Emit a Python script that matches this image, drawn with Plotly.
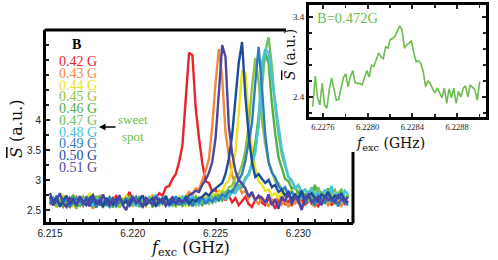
import plotly.graph_objects as go

# ---------------- data ----------------
freq = [
    6.2150, 6.2152, 6.2154, 6.2156, 6.2158, 6.2160, 6.2162, 6.2164, 6.2166, 6.2168,
    6.2170, 6.2172, 6.2174, 6.2176, 6.2178, 6.2180, 6.2182, 6.2184, 6.2186, 6.2188,
    6.2190, 6.2192, 6.2194, 6.2196, 6.2198, 6.2200, 6.2202, 6.2204, 6.2206, 6.2208,
    6.2210, 6.2212, 6.2214, 6.2216, 6.2218, 6.2220, 6.2222, 6.2224, 6.2226, 6.2228,
    6.2230, 6.2232, 6.2234, 6.2236, 6.2238, 6.2240, 6.2242, 6.2244, 6.2246, 6.2248,
    6.2250, 6.2252, 6.2254, 6.2256, 6.2258, 6.2260, 6.2262, 6.2264, 6.2266, 6.2268,
    6.2270, 6.2272, 6.2274, 6.2276, 6.2278, 6.2280, 6.2282, 6.2284, 6.2286, 6.2288,
    6.2290, 6.2292, 6.2294, 6.2296, 6.2298, 6.2300, 6.2302, 6.2304, 6.2306, 6.2308,
    6.2310, 6.2312, 6.2314, 6.2316, 6.2318, 6.2320, 6.2322, 6.2324, 6.2326, 6.2328,
    6.2330,
]

B_labels = ["0.42 G", "0.43 G", "0.44 G", "0.45 G", "0.46 G",
            "0.47 G", "0.48 G", "0.49 G", "0.50 G", "0.51 G"]
colors = ["#e8252b", "#f5893a", "#ede21f", "#8cc540", "#4fb04a",
          "#6fc064", "#47c3de", "#2e7dc3", "#1c4c9c", "#4b46a3"]

S_042 = [
    2.62, 2.71, 2.58, 2.66, 2.74, 2.60, 2.55, 2.68, 2.72, 2.63,
    2.57, 2.69, 2.75, 2.61, 2.66, 2.58, 2.70, 2.64, 2.56, 2.67,
    2.73, 2.62, 2.59, 2.68, 2.80, 2.65, 2.60, 2.71, 2.63, 2.57,
    2.69, 2.74,
    2.70, 2.78, 2.74, 2.88, 2.90, 3.02, 3.10, 3.30, 3.58, 4.30, 5.12, 5.08,
    4.20, 3.70, 3.28, 2.98, 2.95, 2.80, 2.84, 2.72, 2.78, 2.66,
    2.74, 2.63, 2.70, 2.58, 2.66, 2.72, 2.60, 2.55, 2.67, 2.73,
    2.62, 2.58, 2.69, 2.64, 2.52, 2.66, 2.71, 2.60, 2.65, 2.57,
    2.70, 2.62, 2.68, 2.59, 2.64, 2.72, 2.61, 2.56, 2.67, 2.63,
    2.70, 2.58, 2.66, 2.62, 2.69, 2.60, 2.65,
]
S_043 = [
    2.58, 2.66, 2.72, 2.61, 2.55, 2.69, 2.63, 2.75, 2.60, 2.67,
    2.57, 2.70, 2.64, 2.52, 2.68, 2.73, 2.62, 2.59, 2.71, 2.65,
    2.56, 2.68, 2.61, 2.74, 2.63, 2.57, 2.66, 2.70, 2.59, 2.64,
    2.72, 2.55, 2.67, 2.62, 2.69, 2.58, 2.65, 2.71, 2.60, 2.66,
    2.63,
    2.72, 2.80, 2.74, 2.86, 2.84, 3.00, 3.15, 3.35, 3.90, 4.62, 5.18,
    4.70, 3.80, 3.40, 3.08, 2.92, 2.90, 2.78, 2.82, 2.70, 2.76,
    2.66, 2.60, 2.71, 2.63, 2.57, 2.68, 2.62, 2.74, 2.59, 2.65,
    2.55, 2.67, 2.61, 2.70, 2.58, 2.64, 2.72, 2.60, 2.56, 2.66,
    2.63, 2.69, 2.58, 2.65, 2.61, 2.70, 2.57, 2.64, 2.62,
]
S_044 = [
    2.70, 2.62, 2.57, 2.68, 2.74, 2.61, 2.66, 2.55, 2.72, 2.64,
    2.59, 2.69, 2.78, 2.63, 2.58, 2.67, 2.73, 2.60, 2.65, 2.71,
    2.56, 2.68, 2.62, 2.75, 2.60, 2.66, 2.58, 2.70, 2.64, 2.57,
    2.69, 2.73, 2.61, 2.66, 2.59, 2.72, 2.64, 2.68, 2.60, 2.74,
    2.63, 2.57, 2.69, 2.65, 2.72, 2.61, 2.67, 2.74,
    2.72, 2.78, 2.74, 2.82, 2.80, 2.93, 2.98, 3.20, 3.46, 4.10, 4.82,
    4.78, 4.05, 3.52, 3.20, 2.97, 2.93, 2.82, 2.84, 2.74, 2.78, 2.71,
    2.80, 2.68, 2.75, 2.86, 2.70, 2.64, 2.78, 2.72, 2.66, 2.80,
    2.69, 2.75, 2.63, 2.77, 2.71, 2.82, 2.67, 2.74, 2.79, 2.68,
    2.73,
]
S_045 = [
    2.60, 2.68, 2.55, 2.64, 2.71, 2.58, 2.66, 2.62, 2.52, 2.67,
    2.73, 2.59, 2.64, 2.57, 2.69, 2.61, 2.55, 2.66, 2.72, 2.60,
    2.63, 2.54, 2.68, 2.62, 2.70, 2.57, 2.65, 2.60, 2.74, 2.58,
    2.63, 2.69, 2.56, 2.66, 2.61, 2.71, 2.59, 2.64, 2.55, 2.68,
    2.62, 2.70, 2.58, 2.66, 2.73, 2.61, 2.67, 2.63, 2.71, 2.66,
    2.75, 2.72, 2.80, 2.78, 2.88, 2.90, 3.05, 3.10, 3.25, 3.50, 3.90,
    4.55, 5.03, 4.65, 4.00, 3.60, 3.30, 3.15, 2.98, 2.95, 2.84, 2.85,
    2.76, 2.80, 2.74,
    2.82, 2.70, 2.76, 2.64, 2.88, 2.72, 2.66, 2.80, 2.70, 2.62,
    2.78, 2.84, 2.68, 2.74, 2.66, 2.76,
]
S_046 = [
    2.66, 2.58, 2.73, 2.62, 2.56, 2.69, 2.64, 2.75, 2.60, 2.57,
    2.67, 2.62, 2.70, 2.55, 2.65, 2.72, 2.59, 2.63, 2.68, 2.54,
    2.66, 2.71, 2.60, 2.64, 2.57, 2.69, 2.62, 2.73, 2.58, 2.65,
    2.70, 2.56, 2.63, 2.68, 2.61, 2.74, 2.59, 2.66, 2.62, 2.70,
    2.57, 2.64, 2.69, 2.60, 2.72, 2.63, 2.58, 2.67, 2.71, 2.62,
    2.68, 2.74, 2.66,
    2.76, 2.74, 2.82, 2.80, 2.90, 2.88, 3.02, 3.10, 3.28, 3.62, 4.05,
    4.70, 5.12, 4.95, 4.28, 3.78, 3.38, 3.20, 3.02, 2.98, 2.86, 2.88,
    2.78, 2.82, 2.74,
    2.80, 2.68, 2.92, 2.72, 2.78, 2.64, 2.86, 2.70, 2.60, 2.76,
    2.82, 2.68, 2.74,
]
S_047 = [
    2.63, 2.70, 2.57, 2.66, 2.60, 2.72, 2.55, 2.68, 2.64, 2.59,
    2.71, 2.62, 2.67, 2.56, 2.74, 2.60, 2.65, 2.58, 2.69, 2.63,
    2.57, 2.70, 2.61, 2.66, 2.73, 2.59, 2.64, 2.55, 2.68, 2.62,
    2.72, 2.60, 2.65, 2.58, 2.71, 2.63, 2.67, 2.56, 2.69, 2.61,
    2.66, 2.74, 2.60, 2.65, 2.58, 2.70, 2.63, 2.68, 2.61, 2.72,
    2.64, 2.69,
    2.72, 2.80, 2.75, 2.84, 2.80, 2.92, 2.90, 3.04, 3.08, 3.30, 3.50,
    3.92, 4.52, 5.14, 5.38, 4.90, 4.22, 3.76, 3.42, 3.22, 3.05, 2.98,
    2.88, 2.90, 2.80, 2.84, 2.76, 2.80,
    2.70, 2.88, 2.74, 2.66, 2.80, 2.72, 2.62, 2.78, 2.84, 2.70,
    2.76,
]
S_048 = [
    2.68, 2.61, 2.74, 2.58, 2.65, 2.71, 2.56, 2.67, 2.62, 2.73,
    2.59, 2.64, 2.70, 2.57, 2.66, 2.61, 2.75, 2.60, 2.55, 2.68,
    2.63, 2.72, 2.58, 2.66, 2.61, 2.69, 2.56, 2.64, 2.71, 2.60,
    2.67, 2.62, 2.76, 2.59, 2.65, 2.70, 2.57, 2.63, 2.68, 2.61,
    2.74, 2.60, 2.66, 2.72, 2.63, 2.58, 2.69, 2.65, 2.74, 2.62,
    2.70, 2.66, 2.75, 2.68, 2.72,
    2.80, 2.78, 2.88, 2.92, 3.00, 3.10, 3.25, 3.45, 3.95, 4.95, 5.18,
    5.12, 4.70, 4.25, 3.90, 3.52, 3.30, 3.05, 3.00, 2.86, 2.92, 2.80,
    2.84,
    2.76, 2.86, 2.72, 2.80, 2.68, 2.84, 2.74, 2.90, 2.70, 2.78,
    2.66, 2.82, 2.76,
]
S_049 = [
    2.60, 2.66, 2.72, 2.57, 2.64, 2.69, 2.55, 2.62, 2.70, 2.65,
    2.58, 2.73, 2.61, 2.67, 2.54, 2.68, 2.63, 2.59, 2.71, 2.64,
    2.56, 2.66, 2.62, 2.70, 2.58, 2.65, 2.72, 2.60, 2.55, 2.67,
    2.63, 2.69, 2.57, 2.64, 2.70, 2.59, 2.66, 2.61, 2.73, 2.58,
    2.65, 2.62, 2.70, 2.56, 2.67, 2.63, 2.72, 2.60, 2.68, 2.64,
    2.71, 2.66,
    2.76, 2.72, 2.82, 2.80, 2.90, 2.98, 3.10, 3.32, 3.62, 3.95, 4.62,
    5.22, 4.55, 3.75, 3.30, 3.12, 3.05, 2.90, 2.84, 2.88, 2.76, 2.80,
    2.70, 2.64, 2.78, 2.60, 2.72, 2.66, 2.58, 2.74, 2.68, 2.62,
    2.76, 2.64, 2.70, 2.56, 2.68, 2.62, 2.58,
]
S_050 = [
    2.78, 2.62, 2.70, 2.56, 2.66, 2.74, 2.60, 2.68, 2.57, 2.72,
    2.64, 2.58, 2.69, 2.75, 2.61, 2.66, 2.55, 2.70, 2.63, 2.59,
    2.68, 2.73, 2.60, 2.65, 2.57, 2.71, 2.62, 2.67, 2.74, 2.59,
    2.64, 2.70, 2.56, 2.68, 2.62, 2.73, 2.58, 2.66, 2.61, 2.69,
    2.63, 2.71, 2.60, 2.67, 2.64, 2.70,
    2.72, 2.78, 2.74, 2.82, 2.86, 2.90, 2.95, 3.10, 3.35, 3.75, 4.30,
    4.95, 5.30, 4.40, 3.75, 3.30, 3.05, 3.10, 3.02, 2.95, 3.00, 2.88,
    2.92, 2.80, 2.84,
    2.74, 2.80, 2.68, 2.76, 2.70, 2.82, 2.66, 2.74, 2.78, 2.70,
    2.64, 2.76, 2.72, 2.80, 2.68, 2.74, 2.70, 2.78, 2.66, 2.62,
]
S_051 = [
    2.72, 2.58, 2.66, 2.78, 2.61, 2.55, 2.70, 2.64, 2.59, 2.73,
    2.62, 2.68, 2.56, 2.71, 2.65, 2.60, 2.76, 2.63, 2.57, 2.69,
    2.62, 2.74, 2.58, 2.50, 2.66, 2.72, 2.61, 2.67, 2.55, 2.70,
    2.64, 2.59, 2.73, 2.62, 2.68, 2.57, 2.65, 2.71, 2.60, 2.66,
    2.63, 2.69,
    2.74, 2.78, 2.82, 2.80, 2.92, 3.00, 3.12, 3.30, 3.70, 4.45, 5.25,
    5.05, 3.90, 3.45, 3.15, 3.00, 2.94, 2.86, 2.72, 2.80, 2.66, 2.74,
    2.70, 2.62, 2.76, 2.58, 2.68, 2.52, 2.72, 2.64, 2.78, 2.60,
    2.74, 2.66, 2.50, 2.70, 2.76, 2.62, 2.68, 2.72, 2.58, 2.74,
    2.66, 2.70, 2.62, 2.76, 2.68, 2.64, 2.72,
]
series = [S_042, S_043, S_044, S_045, S_046, S_047, S_048, S_049, S_050, S_051]

main_xticks = [6.215, 6.220, 6.225, 6.230]
main_xticktext = ["6.215", "6.220", "6.225", "6.230"]
main_yticks = [2.5, 3.0, 3.5, 4.0]
main_yticktext = ["2.5", "3", "3.5", "4"]

inset_freq = [
    6.227510, 6.227531, 6.227552, 6.227573, 6.227594, 6.227615, 6.227636, 6.227657,
    6.227678, 6.227699, 6.227720, 6.227741, 6.227762, 6.227783, 6.227804, 6.227825,
    6.227846, 6.227867, 6.227888, 6.227909, 6.227930, 6.227951, 6.227972, 6.227993,
    6.228014, 6.228035, 6.228056, 6.228077, 6.228098, 6.228119, 6.228140, 6.228161,
    6.228182, 6.228203, 6.228224, 6.228245, 6.228266, 6.228287, 6.228308, 6.228329,
    6.228350, 6.228371, 6.228392, 6.228413, 6.228434, 6.228455, 6.228476, 6.228497,
    6.228518, 6.228539, 6.228560, 6.228581, 6.228602, 6.228623, 6.228644, 6.228665,
    6.228686, 6.228707, 6.228728, 6.228749, 6.228770, 6.228791, 6.228812, 6.228833,
    6.228854, 6.228875, 6.228896, 6.228917, 6.228938, 6.228959, 6.228980, 6.229001,
]
inset_S = [
    2.28, 2.66, 2.40, 2.30, 2.57, 2.30, 2.26, 2.49, 2.64, 2.49,
    2.36, 2.37, 2.49, 2.64, 2.69, 2.53, 2.65, 2.73, 2.58, 2.57,
    2.57, 2.55, 2.64, 2.73, 2.65, 2.80, 2.78, 2.86, 2.95, 2.90,
    2.88, 3.03, 3.01, 3.12, 3.13, 3.16, 3.22, 3.29, 3.24, 3.01,
    3.05, 3.07, 3.10, 2.95, 2.84, 2.85, 2.82, 2.72, 2.53, 2.60,
    2.57, 2.50, 2.45, 2.51, 2.45, 2.39, 2.51, 2.32, 2.50, 2.39,
    2.51, 2.32, 2.47, 2.40, 2.51, 2.54, 2.40, 2.55, 2.52, 2.49,
    2.36, 2.59,
]
inset_xticks = [6.2276, 6.2280, 6.2284, 6.2288]
inset_xticktext = ["6.2276", "6.2280", "6.2284", "6.2288"]
inset_yticks = [2.4, 3.4]
inset_yticktext = ["2.4", "3.4"]
inset_label = "B=0.472G"
inset_color = "#6cbd4e"

# ---------------- layout helpers ----------------
W, H = 498, 260
def px(x):
    return x / W
def py(y):
    return 1 - y / H

SERIF = "Liberation Serif"
MATH = "DejaVu Serif"
SANS = "Liberation Sans"
SBAR = '<i><span style="text-decoration:overline">S</span></i>'

fig = go.Figure()
for lab, col, vals in zip(B_labels, colors, series):
    n = min(len(freq), len(vals))
    fig.add_trace(go.Scatter(
        x=freq[:n], y=vals[:n], mode="lines", name=lab,
        line=dict(color=col, width=2.4), xaxis="x", yaxis="y",
        showlegend=False, hoverinfo="skip"))

n2 = min(len(inset_freq), len(inset_S))
fig.add_trace(go.Scatter(
    x=inset_freq[:n2], y=inset_S[:n2], mode="lines",
    line=dict(color=inset_color, width=1.6), xaxis="x2", yaxis="y2",
    showlegend=False, hoverinfo="skip"))

axis_common = dict(showgrid=False, zeroline=False, showline=True,
                   linecolor="black", linewidth=3, ticks="inside",
                   tickcolor="#222", tickwidth=2, ticklen=4, automargin=False)

fig.update_layout(
    width=W, height=H, margin=dict(l=0, r=0, t=0, b=0, pad=0, autoexpand=False),
    paper_bgcolor="white", plot_bgcolor="white",
    xaxis=dict(domain=[px(46), px(353)], range=[6.21476, 6.2333], anchor="y",
               tickmode="array", tickvals=main_xticks, ticktext=main_xticktext,
               tickfont=dict(family=SANS, size=10, color="#222"),
               minor=dict(dtick=0.001, tick0=6.215, ticks="inside", ticklen=3,
                          tickwidth=1.5, tickcolor="#222"),
               mirror=False, **axis_common),
    yaxis=dict(domain=[1 - 222 / H, 1 - 30 / H], range=[2.3, 5.5], anchor="x",
               tickmode="array", tickvals=main_yticks, ticktext=main_yticktext,
               tickfont=dict(family=SANS, size=10, color="#222"),
               minor=dict(dtick=0.25, tick0=2.5, ticks="inside", ticklen=3,
                          tickwidth=1.5, tickcolor="#222"),
               mirror=False, **axis_common),
    xaxis2=dict(domain=[px(309), px(486)], range=[6.227476, 6.229058], anchor="y2",
                tickmode="array", tickvals=inset_xticks, ticktext=inset_xticktext,
                tickfont=dict(family=SERIF, size=8.5, color="#222"),
                minor=dict(dtick=0.0002, tick0=6.2276, ticks="inside", ticklen=3,
                           tickwidth=1.5, tickcolor="#222"),
                mirror="allticks", **axis_common),
    yaxis2=dict(domain=[1 - 117 / H, 1 - 5 / H], range=[2.15, 3.55], anchor="x2",
                tickmode="array", tickvals=inset_yticks, ticktext=inset_yticktext,
                tickfont=dict(family=SERIF, size=9, color="#222"),
                minor=dict(dtick=0.2, tick0=2.4, ticks="inside", ticklen=3,
                           tickwidth=1.5, tickcolor="#222"),
                mirror="allticks", **axis_common),
)

# partial top / right frame of the main panel (rest hidden behind inset)
fig.add_shape(type="line", xref="paper", yref="paper",
              x0=px(44.5), x1=px(286), y0=py(30), y1=py(30),
              line=dict(color="black", width=3))
fig.add_shape(type="line", xref="paper", yref="paper",
              x0=px(353), x1=px(353), y0=py(152), y1=py(223.5),
              line=dict(color="black", width=3))

ann = []
# axis titles
ann.append(dict(x=px(190), y=py(248), text="<i>f</i><sub>exc</sub> (GHz)",
                font=dict(family=MATH, size=16, color="#111")))
ann.append(dict(x=px(16), y=py(128), text=SBAR + " (a.u.)", textangle=-90,
                font=dict(family=MATH, size=16, color="#111")))
ann.append(dict(x=px(390), y=py(144), text="<i>f</i><sub>exc</sub> (GHz)",
                font=dict(family=MATH, size=14, color="#111")))
ann.append(dict(x=px(290), y=py(55), text=SBAR + " (a.u.)", textangle=-90,
                font=dict(family=MATH, size=14, color="#111")))
# inset label
ann.append(dict(x=px(315), y=py(18), text=inset_label, xanchor="left",
                font=dict(family=SERIF, size=14.5, color=inset_color)))
# legend block
ann.append(dict(x=px(76), y=py(44), text="<b>B</b>",
                font=dict(family=SERIF, size=14, color="black")))
for k, (lab, col) in enumerate(zip(B_labels, colors)):
    ann.append(dict(x=px(57), y=py(61.7 + 11.73 * k), text=lab, xanchor="left",
                    font=dict(family=SERIF, size=14, color=col)))
ann.append(dict(x=px(133), y=py(127.5), text="sweet<br>spot",
                font=dict(family=SERIF, size=13, color="#6cbd4e")))
ann.append(dict(x=px(99), y=py(127), ax=18, ay=0, text="", showarrow=True,
                arrowhead=2, arrowsize=1, arrowwidth=1.3, arrowcolor="black"))

for a in ann:
    a.setdefault("xref", "paper")
    a.setdefault("yref", "paper")
    a.setdefault("showarrow", False)
    a.setdefault("xanchor", "center")
    a.setdefault("yanchor", "middle")
    fig.add_annotation(**a)

fig.write_html(
    "out.html",
    config={"displayModeBar": False, "staticPlot": True},
    post_script="document.body.style.margin='0';document.body.style.overflow='hidden';",
)
